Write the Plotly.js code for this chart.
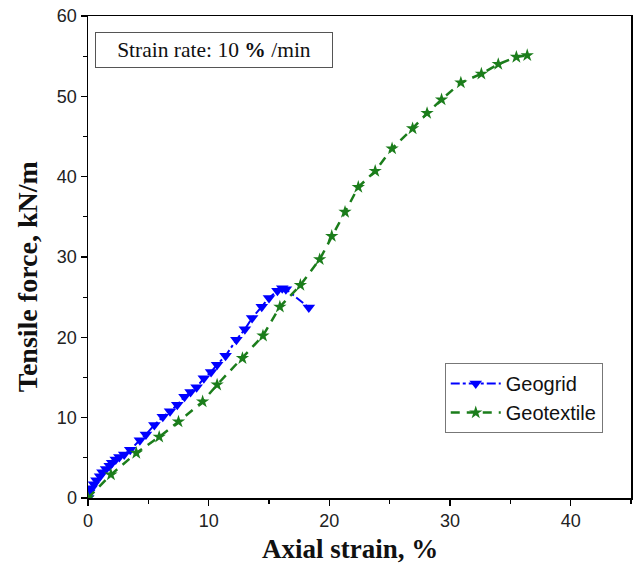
<!DOCTYPE html>
<html>
<head>
<meta charset="utf-8">
<script src="https://cdn.plot.ly/plotly-3.0.1.min.js"></script>
<style>html,body{margin:0;padding:0;background:#fff;}#chart{width:635px;height:573px;}</style>
</head>
<body>
<div id="chart"></div>
<script>
const geogridStrain = [0, 0.1, 0.3, 0.5, 0.7, 1.0, 1.2, 1.5, 1.8, 2.0, 2.3, 2.6, 3.0, 3.5, 4.3, 4.8, 5.5, 6.2, 6.8, 7.4, 8.0, 8.5, 9.0, 9.6, 10.2, 10.7, 11.4, 12.3, 13.0, 13.6, 14.4, 15.0, 15.7, 16.1, 16.4, 18.3];
const geogridForce  = [0, 0.7, 1.2, 1.7, 2.2, 2.7, 3.2, 3.6, 4.0, 4.4, 4.8, 5.1, 5.4, 6.0, 7.2, 7.9, 9.1, 10.1, 10.8, 11.6, 12.6, 13.2, 13.8, 14.9, 15.7, 16.6, 17.7, 19.7, 21.0, 22.4, 23.8, 24.9, 25.8, 26.1, 26.0, 23.7];
const geotextileStrain = [0, 1.9, 4.0, 5.9, 7.5, 9.5, 10.7, 12.8, 14.5, 15.9, 17.6, 19.2, 20.2, 21.3, 22.4, 23.8, 25.2, 26.9, 28.1, 29.3, 30.9, 32.6, 34.0, 35.5, 36.4];
const geotextileForce  = [0, 2.9, 5.6, 7.6, 9.5, 12.0, 14.1, 17.4, 20.2, 23.8, 26.5, 29.7, 32.6, 35.6, 38.7, 40.7, 43.5, 46.0, 47.9, 49.6, 51.7, 52.8, 54.0, 54.9, 55.1];
const seriesNames = ["Geogrid", "Geotextile"];
const xTicks = [0, 10, 20, 30, 40];
const yTicks = [0, 10, 20, 30, 40, 50, 60];

const traces = [
  {
    x: geogridStrain, y: geogridForce, name: seriesNames[0],
    type: 'scatter', mode: 'lines+markers',
    line: {color: '#0000ff', width: 2, dash: 'dashdot'},
    marker: {symbol: 'triangle-down', size: 11, color: '#0000ff'}
  },
  {
    x: geotextileStrain, y: geotextileForce, name: seriesNames[1],
    type: 'scatter', mode: 'lines+markers',
    line: {color: '#1b7d1b', width: 2.5, dash: '9px,7px'},
    marker: {symbol: 'star', size: 10, color: '#1b7d1b'}
  }
];

const serif = 'Liberation Serif, Times New Roman, serif';
const sans = 'Liberation Sans, Arial, sans-serif';

const axisCommon = {
  showgrid: false, zeroline: false,
  showline: true, linecolor: '#000', linewidth: 1.5, mirror: true,
  ticks: 'outside', ticklen: 6, tickwidth: 1.3, tickcolor: '#000',
  tickfont: {family: sans, size: 18, color: '#222'},
  minor: {ticks: 'outside', ticklen: 4, tickwidth: 1.3, tickcolor: '#000', dtick: 5}
};

const layout = {
  width: 635, height: 573,
  margin: {l: 88, r: 4, t: 16, b: 75},
  paper_bgcolor: '#fff', plot_bgcolor: '#fff',
  showlegend: true,
  legend: {
    x: 0.657, y: 0.28, xanchor: 'left', yanchor: 'top',
    bordercolor: '#777', borderwidth: 1, bgcolor: '#fff',
    font: {family: sans, size: 20, color: '#111'},
    itemwidth: 50, tracegroupgap: 0
  },
  xaxis: Object.assign({}, axisCommon, {
    range: [0, 45], tickvals: xTicks, ticktext: xTicks.map(String)
  }),
  yaxis: Object.assign({}, axisCommon, {
    range: [0, 60], tickvals: yTicks, ticktext: yTicks.map(String)
  }),
  annotations: [
    {
      xref: 'paper', yref: 'paper', x: 0.012, y: 0.93, xanchor: 'left', yanchor: 'middle',
      text: 'Strain rate: 10 <b>%</b> /min', showarrow: false,
      font: {family: serif, size: 21.5, color: '#111'},
      bordercolor: '#555', borderwidth: 1, borderpad: 5, bgcolor: '#fff',
      width: 226, align: 'center'
    },
    {
      xref: 'paper', yref: 'paper', x: 0.4825, y: -0.106, xanchor: 'center', yanchor: 'middle',
      text: '<b>Axial strain, %</b>', showarrow: false,
      font: {family: serif, size: 27, color: '#111'}
    },
    {
      xref: 'paper', yref: 'paper', x: -0.112, y: 0.4585, xanchor: 'center', yanchor: 'middle',
      text: '<b>Tensile force, kN/m</b>', showarrow: false, textangle: -90,
      font: {family: serif, size: 28, color: '#111'}
    }
  ]
};

Plotly.newPlot('chart', traces, layout, {displayModeBar: false, staticPlot: true});
</script>
</body>
</html>
